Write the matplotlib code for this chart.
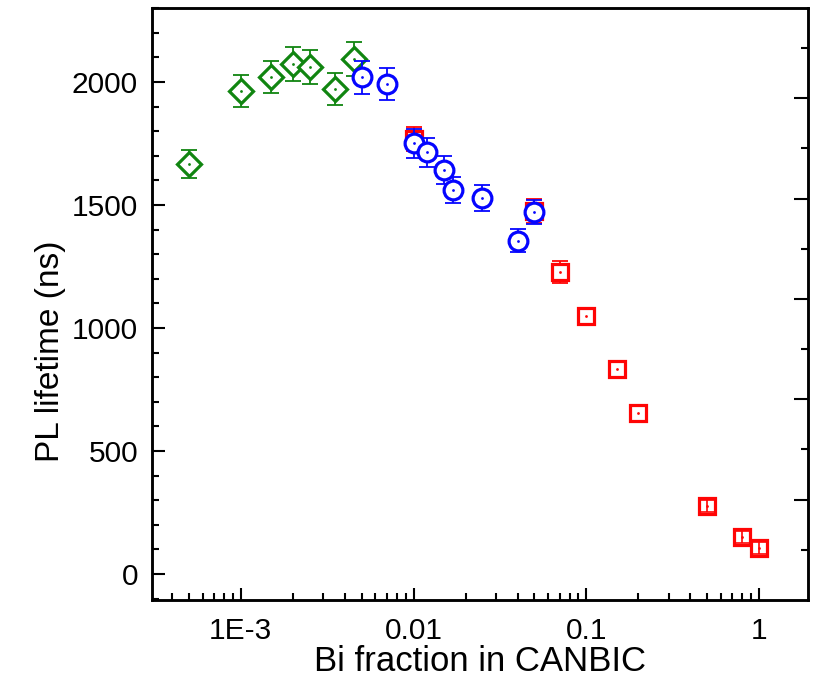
import matplotlib
matplotlib.use("Agg")
import matplotlib.pyplot as plt
import numpy as np
from matplotlib.ticker import LogLocator, FixedLocator, MultipleLocator, FuncFormatter

plt.rcParams['font.family'] = ['Liberation Sans', 'DejaVu Sans']

# Data
green_x = [5e-4, 1e-3, 1.5e-3, 2e-3, 2.5e-3, 3.5e-3, 4.5e-3]
green_y = [1667, 1963, 2021, 2073, 2062, 1972, 2092]
green_err = [56, 66, 66, 70, 68, 66, 69]

blue_x = [5e-3, 7e-3, 0.01, 0.012, 0.015, 0.017, 0.025, 0.04, 0.05]
blue_y = [2019, 1992, 1751, 1714, 1642, 1561, 1530, 1355, 1473]
blue_err = [66, 66, 59, 58, 56, 53, 53, 46, 49]

red_x = [0.01, 0.05, 0.07, 0.1, 0.15, 0.2, 0.5, 0.8, 1.0]
red_y = [1768, 1475, 1229, 1050, 835, 653, 276, 149, 104]
red_err = [50, 50, 45, 30, 30, 28, 24, 24, 24]

xticks = [1e-3, 1e-2, 1e-1, 1]
xticklabels = ['1E-3', '0.01', '0.1', '1']
yticks = [0, 500, 1000, 1500, 2000]

fig = plt.figure(figsize=(8.15, 6.8), dpi=100)
ax = fig.add_axes([152/815, 1-600/680, (808-152)/815, (600-8)/680])

GREEN = '#108510'
BLUE = '#0505ff'
RED = '#ff0505'

def series(x, y, e, color, marker, ms, z, small_on_top=False):
    ax.errorbar(x, y, yerr=e, fmt='none', ecolor=color, elinewidth=1.3,
                capsize=6, capthick=1.3, zorder=z)
    ax.plot(x, y, linestyle='none', marker=marker, ms=ms, mfc='white',
            mec=color, mew=2.3, zorder=z + 0.1)
    if small_on_top:
        xa, ya, ea = np.array(x), np.array(y), np.array(e)
        m = ea < 26
        ax.errorbar(xa[m], ya[m], yerr=ea[m], fmt='none', ecolor=color,
                    elinewidth=1.2, capsize=5, capthick=1.2, zorder=z + 0.2)
    ax.plot(x, y, linestyle='none', marker='o', ms=2, mfc=color, mec=color,
            mew=0, zorder=z + 0.3)

series(red_x, red_y, red_err, RED, 's', 12, 3, small_on_top=True)
series(green_x, green_y, green_err, GREEN, 'D', 12.5, 4)
series(blue_x, blue_y, blue_err, BLUE, 'o', 13.5, 5)

ax.set_xscale('log')
ax.set_xlim(3.06e-4, 1.92)
ax.set_ylim(-106, 2301)

ax.set_xticks(xticks)
ax.set_xticklabels(xticklabels)
ax.xaxis.set_minor_locator(LogLocator(base=10, subs=np.arange(2, 10), numticks=20))
ax.xaxis.set_minor_formatter(FuncFormatter(lambda v, p: ''))
ax.set_yticks(yticks)
ax.yaxis.set_minor_locator(MultipleLocator(100))

ax.tick_params(axis='both', which='both', direction='in', top=False, right=False,
               labelsize=21.5, width=1.5)
ax.tick_params(axis='both', which='major', length=9)
ax.tick_params(axis='both', which='minor', length=5)
ax.tick_params(axis='x', which='major', pad=12)
ax.tick_params(axis='y', which='major', pad=10)

for s in ax.spines.values():
    s.set_linewidth(1.8)

ax.set_xlabel('Bi fraction in CANBIC', fontsize=25, labelpad=0)
ax.set_ylabel('PL lifetime (ns)', fontsize=24, labelpad=4, y=0.42)

# right-side decorative ticks (independent spacing, as in reference)
ax2 = ax.twinx()
ax2.set_ylim(0, 11.8)
ax2.set_yticks([2, 4, 6, 8, 10])
ax2.yaxis.set_minor_locator(FixedLocator([1, 3, 5, 7, 9, 11]))
ax2.tick_params(axis='y', which='both', direction='in', labelright=False, width=1.5)
ax2.tick_params(axis='y', which='major', length=10)
ax2.tick_params(axis='y', which='minor', length=5)
for s in ax2.spines.values():
    s.set_linewidth(1.8)

fig.savefig('out.png', dpi=100)
